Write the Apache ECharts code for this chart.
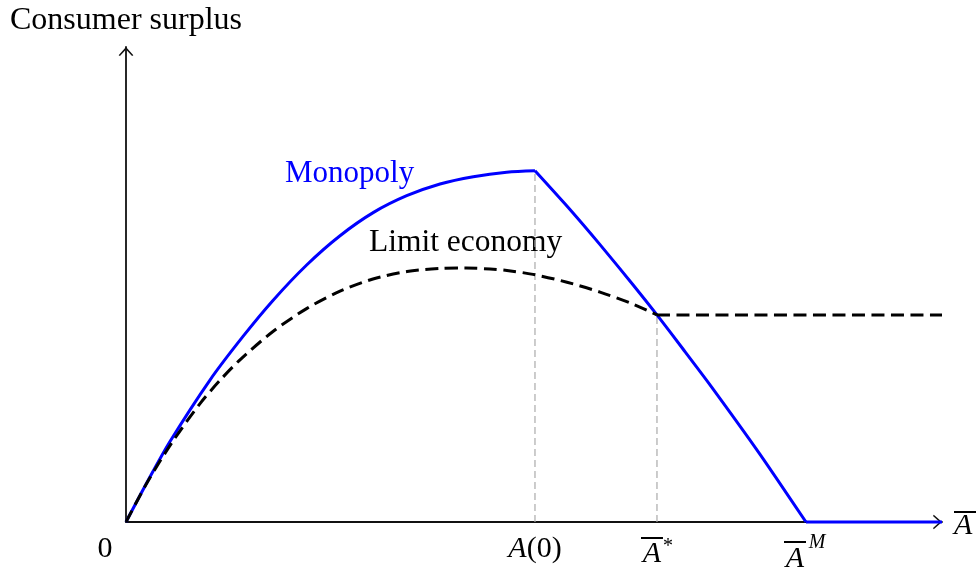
<!DOCTYPE html>
<html><head><meta charset="utf-8">
<script src="https://cdn.jsdelivr.net/npm/echarts@6/dist/echarts.min.js"></script>
<style>html,body{margin:0;padding:0;background:#fff}#c{width:979px;height:571px}</style>
</head><body><div id="c"></div>
<script>
// ---- data (x: 0..100 along the horizontal axis, y: 0..100 consumer surplus) ----
const monoX  = [0, 2.70, 5.39, 10.29, 14.34, 18.01, 22.14, 26.23, 30.34, 34.40, 38.48, 42.56, 46.65, 50.12, 54.41, 58.09, 62.13, 65.07, 68.26, 71.57, 77.70, 83.33, 100];
const monoY  = [0, 8.74, 16.95, 29.89, 39.07, 46.65, 54.11, 60.27, 65.18, 68.69, 71.16, 72.69, 73.64, 73.94, 65.79, 58.40, 49.96, 43.6, 36.42, 28.88, 14.25, 0, 0];
const limitX = [0, 2.70, 5.76, 9.07, 11.52, 13.97, 18.01, 22.18, 26.23, 30.27, 34.44, 38.48, 41.67, 44.61, 46.69, 49.88, 54.04, 58.09, 61.76, 65.07, 100];
const limitY = [0, 8.63, 17.05, 24.91, 29.83, 34.13, 40.11, 44.97, 48.59, 51.16, 52.74, 53.37, 53.47, 53.26, 52.95, 52.13, 50.48, 48.40, 46.13, 43.6, 43.6];
const guideX   = [50.12, 65.07];
const guideTop = [73.94, 43.6];
const tickValues = [0, 50.12, 65.07, 83.33];
const tickLabels = ['{zero|0}', '{itA|A}{rmA|(0)}', '{bar1| }{sp1| }\n{itS|A}{sup1|*}', '{bar2| }{sp2| }\n{itM|A}{sup2|M}'];
const seriesNames = ['Monopoly', 'Limit economy'];
const yTitle = 'Consumer surplus';
const xTitle = '{nbar| }\n{nA|A}';

const serif = '"Liberation Serif", "Times New Roman", serif';
const pts = (xs, ys, a, b) => xs.slice(a, b).map((x, i) => [x, ys[a + i]]);
const monoPeak = monoY.indexOf(Math.max(...monoY));
const monoZero = monoY.indexOf(0, 1);
const limitKink = limitX.length - 2;
const chevron = 'path://M8,0 L16,9 L14.6,9.8 L8,2.6 L1.4,9.8 L0,9 Z';

const blue = '#0000ff';
const blueStyle = { color: blue, width: 3 };
const dashStyle = { color: '#000', width: 3, type: [13, 6.5] };
const guideStyle = { color: '#aaaaaa', width: 1.2, type: [7, 4] };

const series = [];
guideX.forEach((gx, i) => series.push({
  type: 'line', data: [[gx, 0], [gx, guideTop[i]]], symbol: 'none', lineStyle: guideStyle, z: 1, silent: true
}));
series.push({ name: seriesNames[0], type: 'line', data: pts(monoX, monoY, 0, monoPeak + 1), smooth: 0.3, symbol: 'none', lineStyle: blueStyle, z: 3, clip: false });
series.push({ name: seriesNames[0], type: 'line', data: pts(monoX, monoY, monoPeak, monoZero + 1), smooth: 0.2, symbol: 'none', lineStyle: blueStyle, z: 3, clip: false });
series.push({ name: seriesNames[0], type: 'line', data: pts(monoX, monoY, monoZero, monoX.length), symbol: 'none', lineStyle: blueStyle, z: 3, clip: false });
series.push({ name: seriesNames[1], type: 'line', data: pts(limitX, limitY, 0, limitKink + 1), smooth: 0.3, symbol: 'none', lineStyle: dashStyle, z: 4, clip: false });
series.push({ name: seriesNames[1], type: 'line', data: pts(limitX, limitY, limitKink, limitX.length), symbol: 'none', lineStyle: dashStyle, z: 4, clip: false });

const chart = echarts.init(document.getElementById('c'), null, { renderer: 'canvas' });
chart.setOption({
  animation: false,
  backgroundColor: '#fff',
  grid: { left: 126, right: 37, top: 47, bottom: 49, containLabel: false, outerBoundsMode: 'none' },
  xAxis: {
    type: 'value', min: 0, max: 100,
    splitLine: { show: false }, axisTick: { show: false },
    axisLine: { lineStyle: { color: '#111', width: 1.8 }, symbol: ['none', chevron], symbolSize: [16, 9], symbolOffset: [0, -4.5] },
    name: xTitle, nameLocation: 'end', nameGap: 12,
    nameTextStyle: {
      rich: {
        nbar: { width: 22, height: 2, lineHeight: 8, backgroundColor: '#000' },
        nA: { fontFamily: serif, fontStyle: 'italic', fontSize: 30, width: 22, lineHeight: 20, color: '#000' }
      }
    },
    axisLabel: {
      customValues: tickValues, margin: 8, color: '#000',
      formatter: v => { const i = tickValues.indexOf(v); return i < 0 ? '' : tickLabels[i]; },
      rich: {
        zero: { fontFamily: serif, fontSize: 30, lineHeight: 38, padding: [0, 42, 0, 0], color: '#000' },
        itA: { fontFamily: serif, fontStyle: 'italic', fontSize: 30, lineHeight: 38, color: '#000' },
        rmA: { fontFamily: serif, fontSize: 30, lineHeight: 38, color: '#000' },
        bar1: { width: 22, height: 2, lineHeight: 16, backgroundColor: '#000' },
        sp1: { width: 10, lineHeight: 16 },
        itS: { fontFamily: serif, fontStyle: 'italic', fontSize: 30, width: 22, lineHeight: 16, color: '#000' },
        sup1: { fontFamily: serif, fontSize: 20, width: 10, lineHeight: 16, padding: [0, 0, 14, 0], color: '#000' },
        bar2: { width: 22, height: 2, lineHeight: 24, backgroundColor: '#000' },
        sp2: { width: 22, lineHeight: 24 },
        itM: { fontFamily: serif, fontStyle: 'italic', fontSize: 30, width: 22, lineHeight: 10, color: '#000' },
        sup2: { fontFamily: serif, fontStyle: 'italic', fontSize: 20, width: 22, lineHeight: 10, padding: [0, 0, 33, 0], color: '#000' }
      }
    }
  },
  yAxis: {
    type: 'value', min: 0, max: 100,
    splitLine: { show: false }, axisTick: { show: false }, axisLabel: { show: false },
    axisLine: { show: true, lineStyle: { color: '#111', width: 1.8 }, symbol: ['none', chevron], symbolSize: [16, 9], symbolOffset: [0, -4.5] },
    name: yTitle, nameLocation: 'end', nameGap: 11,
    nameTextStyle: { fontFamily: serif, fontSize: 32, lineHeight: 31, color: '#000' }
  },
  graphic: [
    { type: 'text', x: 285, y: 174, style: { text: seriesNames[0], font: '31px "Liberation Serif"', fill: blue, textVerticalAlign: 'middle', verticalAlign: 'middle' } },
    { type: 'text', x: 369, y: 243, style: { text: seriesNames[1], font: '31.5px "Liberation Serif"', fill: '#000', textVerticalAlign: 'middle', verticalAlign: 'middle' } }
  ],
  series: series
});
</script></body></html>
